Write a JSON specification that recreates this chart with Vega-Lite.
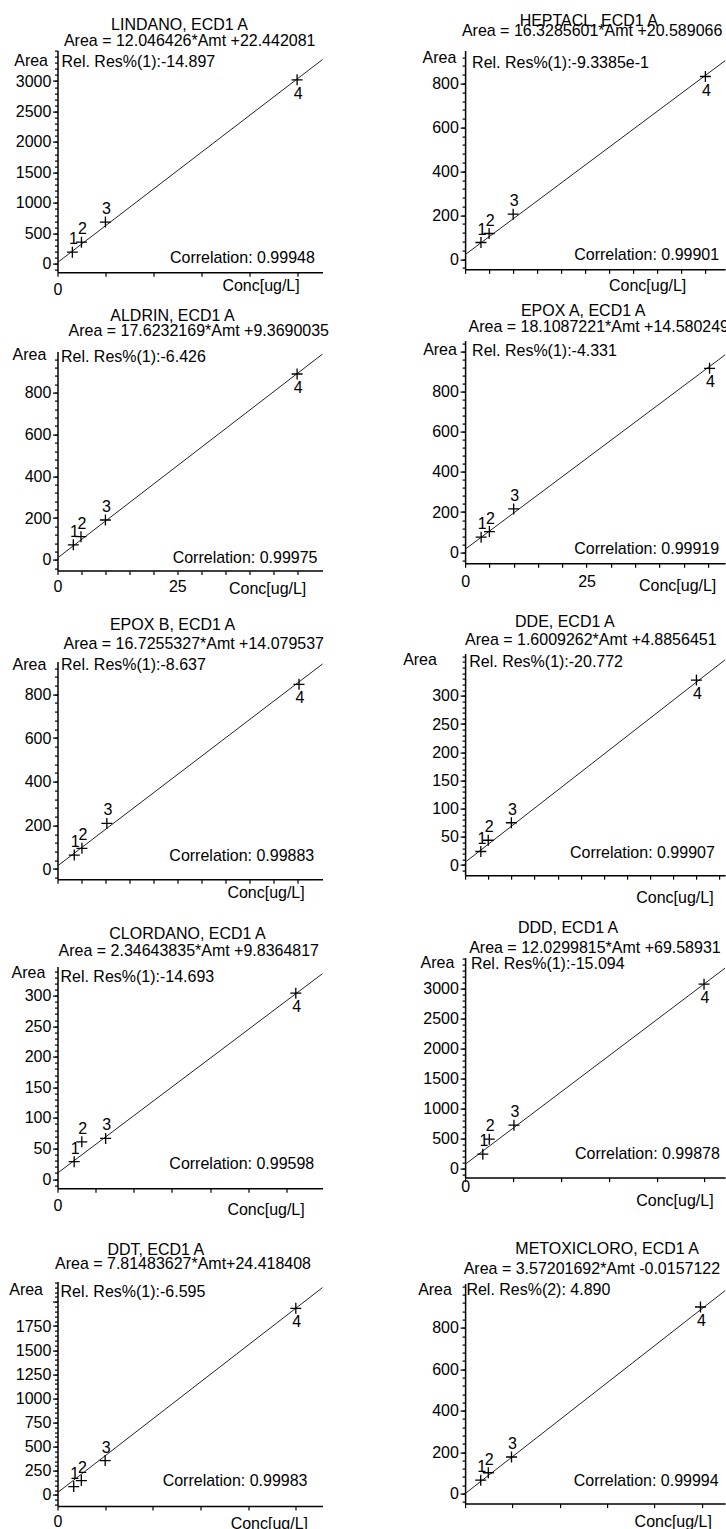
{
"$schema": "https://vega.github.io/schema/vega-lite/v6.json",
"autosize": {"type": "pad"},
"padding": {"left": 8.5, "top": 12.6, "right": 0, "bottom": 0},
"spacing": 72.6,
"config": {
 "font": "Liberation Sans",
 "view": {"stroke": null},
 "axis": {"labelFont": "Liberation Sans", "labelFontSize": 16, "labelColor": "#000", "titleFont": "Liberation Sans", "titleFontSize": 16, "titleFontWeight": "normal", "titleColor": "#000", "domainColor": "#000", "domainWidth": 1.5, "tickColor": "#000", "tickWidth": 1.2, "grid": false, "labelOverlap": false, "labelFlush": false, "labelBound": false, "titlePadding": 0},
 "title": {"font": "Liberation Sans", "fontSize": 16, "fontWeight": "normal", "color": "#000", "frame": "group", "anchor": "middle", "baseline": "bottom"},
 "text": {"font": "Liberation Sans", "fontSize": 16, "color": "#000"}
},
"datasets": {
 "lindano_pts": [{"n":1,"conc":3.1,"area":192},{"n":2,"conc":5,"area":356},{"n":3,"conc":10,"area":685},{"n":4,"conc":50,"area":3021}],
 "lindano_fit": [{"conc":0,"area":22},{"conc":55.3,"area":3353}],
 "lindano_txt": [{"res":"Rel. Res%(1):-14.897","corr":"Correlation: 0.99948"}],
 "heptacl_pts": [{"n":1,"conc":3.3,"area":76},{"n":2,"conc":5,"area":117},{"n":3,"conc":10,"area":205},{"n":4,"conc":50,"area":832}],
 "heptacl_fit": [{"conc":0,"area":20.6},{"conc":54.1,"area":904}],
 "heptacl_txt": [{"res":"Rel. Res%(1):-9.3385e-1","corr":"Correlation: 0.99901"}],
 "aldrin_pts": [{"n":1,"conc":3.3,"area":72},{"n":2,"conc":4.9,"area":111},{"n":3,"conc":10,"area":191},{"n":4,"conc":50,"area":889}],
 "aldrin_fit": [{"conc":0,"area":9.4},{"conc":55.3,"area":984}],
 "aldrin_txt": [{"res":"Rel. Res%(1):-6.426","corr":"Correlation: 0.99975"}],
 "epoxa_pts": [{"n":1,"conc":3.3,"area":75},{"n":2,"conc":5,"area":103},{"n":3,"conc":10,"area":216},{"n":4,"conc":50.3,"area":916}],
 "epoxa_fit": [{"conc":0,"area":14.6},{"conc":53.5,"area":983}],
 "epoxa_txt": [{"res":"Rel. Res%(1):-4.331","corr":"Correlation: 0.99919"}],
 "epoxb_pts": [{"n":1,"conc":3.5,"area":64},{"n":2,"conc":5.1,"area":95},{"n":3,"conc":10.3,"area":209},{"n":4,"conc":50.4,"area":846}],
 "epoxb_fit": [{"conc":0,"area":14.1},{"conc":55.3,"area":939}],
 "epoxb_txt": [{"res":"Rel. Res%(1):-8.637","corr":"Correlation: 0.99883"}],
 "dde_pts": [{"n":1,"conc":3.4,"area":24},{"n":2,"conc":5,"area":44},{"n":3,"conc":10,"area":75},{"n":4,"conc":50,"area":328}],
 "dde_fit": [{"conc":0,"area":4.9},{"conc":56.2,"area":364}],
 "dde_txt": [{"res":"Rel. Res%(1):-20.772","corr":"Correlation: 0.99907"}],
 "clor_pts": [{"n":1,"conc":3.5,"area":28.5},{"n":2,"conc":5.1,"area":61},{"n":3,"conc":10.1,"area":66.6},{"n":4,"conc":50,"area":304}],
 "clor_fit": [{"conc":0,"area":9.8},{"conc":55.6,"area":336}],
 "clor_txt": [{"res":"Rel. Res%(1):-14.693","corr":"Correlation: 0.99598"}],
 "ddd_pts": [{"n":1,"conc":3.7,"area":240},{"n":2,"conc":5.05,"area":489},{"n":3,"conc":10.2,"area":722},{"n":4,"conc":49.9,"area":3068}],
 "ddd_fit": [{"conc":0,"area":69.6},{"conc":54.3,"area":3336}],
 "ddd_txt": [{"res":"Rel. Res%(1):-15.094","corr":"Correlation: 0.99878"}],
 "ddt_pts": [{"n":1,"conc":3.4,"area":87},{"n":2,"conc":5,"area":149},{"n":3,"conc":10,"area":356},{"n":4,"conc":50,"area":1933}],
 "ddt_fit": [{"conc":0,"area":24},{"conc":55.6,"area":2148}],
 "ddt_txt": [{"res":"Rel. Res%(1):-6.595","corr":"Correlation: 0.99983"}],
 "metox_pts": [{"n":1,"conc":3.3,"area":65},{"n":2,"conc":4.9,"area":101},{"n":3,"conc":9.8,"area":177},{"n":4,"conc":49.7,"area":901}],
 "metox_fit": [{"conc":0,"area":0},{"conc":54.9,"area":980}],
 "metox_txt": [{"res":"Rel. Res%(2): 4.890","corr":"Correlation: 0.99994"}]
},
"hconcat": [
{"spacing": 0, "vconcat": [
 {"width": 265, "height": 221.6,
  "title": {"text": "LINDANO, ECD1 A", "dx": -10.5, "offset": -0.1},
  "resolve": {"axis": {"x": "independent", "y": "independent"}},
  "layer": [
   {"data": {"name": "lindano_fit"}, "mark": {"type": "line", "color": "#222", "strokeWidth": 1},
    "encoding": {
     "x": {"field": "conc", "type": "quantitative", "scale": {"domain": [0, 55.3], "nice": false, "zero": false},
      "axis": {"orient": "bottom", "values": [0,10,20,30,40,50], "tickSize": 4, "labelExpr": "datum.value === 0 ? '0' : ''", "labelPadding": 5.4, "title": ["Conc[ug/L]", ""], "titleLineHeight": 14.4, "titleX": 241.7, "titleY": 4.9, "titleAlign": "right", "titleBaseline": "top"}},
     "y": {"field": "area", "type": "quantitative", "scale": {"domain": [-137, 3500], "nice": false, "zero": false},
      "axis": {"orient": "left", "values": [-100,0,100,200,300,400,500,600,700,800,900,1000,1100,1200,1300,1400,1500,1600,1700,1800,1900,2000,2100,2200,2300,2400,2500,2600,2700,2800,2900,3000,3100,3200,3300,3400,3500], "format": "d", "labelExpr": "datum.value >= 0 && datum.value <= 3000 && datum.value % 500 === 0 ? datum.label : ''", "tickSize": 3, "labelPadding": 3.7, "title": "Area", "titleAngle": 0, "titleAlign": "right", "titleBaseline": "middle", "titleX": -10, "titleY": 9.5}}}},
   {"data": {"name": "lindano_pts"}, "mark": {"type": "point", "shape": "M-1,0H1M0,-1V1", "filled": false, "size": 121, "color": "#000", "strokeWidth": 1.3, "opacity": 1},
    "encoding": {
     "x": {"field": "conc", "type": "quantitative", "axis": {"orient": "top", "domain": false, "ticks": false, "labels": false, "title": "Area = 12.046426*Amt +22.442081", "titleX": 131.7, "titleY": -4.9, "titleAlign": "center", "titleBaseline": "alphabetic"}},
     "y": {"field": "area", "type": "quantitative", "axis": {"orient": "left", "values": [0,500,1000,1500,2000,2500,3000], "tickSize": 5, "labels": false, "domain": false, "title": null}}}},
   {"data": {"name": "lindano_pts"}, "transform": [{"filter": "datum.n < 4"}], "mark": {"type": "text", "dx": 1, "dy": -13, "baseline": "middle"},
    "encoding": {"x": {"field": "conc", "type": "quantitative", "axis": null}, "y": {"field": "area", "type": "quantitative", "axis": null}, "text": {"field": "n", "type": "nominal"}}},
   {"data": {"name": "lindano_pts"}, "transform": [{"filter": "datum.n == 4"}], "mark": {"type": "text", "dx": 1, "dy": 14, "baseline": "middle"},
    "encoding": {"x": {"field": "conc", "type": "quantitative", "axis": null}, "y": {"field": "area", "type": "quantitative", "axis": null}, "text": {"field": "n", "type": "nominal"}}},
   {"data": {"name": "lindano_txt"}, "mark": {"type": "text", "align": "left", "baseline": "middle", "dx": 4, "dy": 11.7},
    "encoding": {"x": {"datum": 0, "type": "quantitative", "axis": null}, "y": {"datum": 3500, "type": "quantitative", "axis": null}, "text": {"field": "res", "type": "nominal"}}},
   {"data": {"name": "lindano_txt"}, "mark": {"type": "text", "align": "right", "baseline": "middle", "dx": -7.7, "dy": -13.9},
    "encoding": {"x": {"datum": 55.3, "type": "quantitative", "axis": null}, "y": {"datum": -137, "type": "quantitative", "axis": null}, "text": {"field": "corr", "type": "nominal"}}}
  ]},
 {"width": 265, "height": 219,
  "title": {"text": "ALDRIN, ECD1 A", "dx": -17.5, "offset": -1.7},
  "resolve": {"axis": {"x": "independent", "y": "independent"}},
  "layer": [
   {"data": {"name": "aldrin_fit"}, "mark": {"type": "line", "color": "#222", "strokeWidth": 1},
    "encoding": {
     "x": {"field": "conc", "type": "quantitative", "scale": {"domain": [0, 55.3], "nice": false, "zero": false},
      "axis": {"orient": "bottom", "values": [0,5,10,15,20,25,30,35,40,45,50], "tickSize": 4, "labelExpr": "datum.value === 0 || datum.value === 25 ? datum.label : ''", "labelPadding": 4.1, "title": ["Conc[ug/L]", ""], "titleLineHeight": 19.6, "titleX": 248.3, "titleY": 10.3, "titleAlign": "right", "titleBaseline": "top"}},
     "y": {"field": "area", "type": "quantitative", "scale": {"domain": [-51, 996], "nice": false, "zero": false},
      "axis": {"orient": "left", "values": [-40,0,40,80,120,160,200,240,280,320,360,400,440,480,520,560,600,640,680,720,760,800,840,880,920,960], "format": "d", "labelExpr": "datum.value >= 0 && datum.value <= 800 && datum.value % 200 === 0 ? datum.label : ''", "tickSize": 3, "labelPadding": 3.7, "title": "Area", "titleAngle": 0, "titleAlign": "right", "titleBaseline": "middle", "titleX": -11.7, "titleY": 2.9}}}},
   {"data": {"name": "aldrin_pts"}, "mark": {"type": "point", "shape": "M-1,0H1M0,-1V1", "filled": false, "size": 121, "color": "#000", "strokeWidth": 1.3, "opacity": 1},
    "encoding": {
     "x": {"field": "conc", "type": "quantitative", "axis": {"orient": "top", "domain": false, "ticks": false, "labels": false, "title": "Area = 17.6232169*Amt +9.3690035", "titleX": 140.8, "titleY": -16, "titleAlign": "center", "titleBaseline": "alphabetic"}},
     "y": {"field": "area", "type": "quantitative", "axis": {"orient": "left", "values": [0,200,400,600,800], "tickSize": 5, "labels": false, "domain": false, "title": null}}}},
   {"data": {"name": "aldrin_pts"}, "transform": [{"filter": "datum.n < 4"}], "mark": {"type": "text", "dx": 1, "dy": -13, "baseline": "middle"},
    "encoding": {"x": {"field": "conc", "type": "quantitative", "axis": null}, "y": {"field": "area", "type": "quantitative", "axis": null}, "text": {"field": "n", "type": "nominal"}}},
   {"data": {"name": "aldrin_pts"}, "transform": [{"filter": "datum.n == 4"}], "mark": {"type": "text", "dx": 1, "dy": 14, "baseline": "middle"},
    "encoding": {"x": {"field": "conc", "type": "quantitative", "axis": null}, "y": {"field": "area", "type": "quantitative", "axis": null}, "text": {"field": "n", "type": "nominal"}}},
   {"data": {"name": "aldrin_txt"}, "mark": {"type": "text", "align": "left", "baseline": "middle", "dx": 3.5, "dy": 5.1},
    "encoding": {"x": {"datum": 0, "type": "quantitative", "axis": null}, "y": {"datum": 996, "type": "quantitative", "axis": null}, "text": {"field": "res", "type": "nominal"}}},
   {"data": {"name": "aldrin_txt"}, "mark": {"type": "text", "align": "right", "baseline": "middle", "dx": -5, "dy": -12.3},
    "encoding": {"x": {"datum": 55.3, "type": "quantitative", "axis": null}, "y": {"datum": -51, "type": "quantitative", "axis": null}, "text": {"field": "corr", "type": "nominal"}}}
  ]},
 {"width": 265, "height": 217.7,
  "title": {"text": "EPOX B, ECD1 A", "dx": -17.5, "offset": 3.3},
  "resolve": {"axis": {"x": "independent", "y": "independent"}},
  "layer": [
   {"data": {"name": "epoxb_fit"}, "mark": {"type": "line", "color": "#222", "strokeWidth": 1},
    "encoding": {
     "x": {"field": "conc", "type": "quantitative", "scale": {"domain": [0, 55.3], "nice": false, "zero": false},
      "axis": {"orient": "bottom", "values": [0,5,10,15,20,25,30,35,40,45,50], "tickSize": 4, "labels": false, "title": ["Conc[ug/L]", ""], "titleLineHeight": 25.2, "titleX": 246.7, "titleY": 4.8, "titleAlign": "right", "titleBaseline": "top"}},
     "y": {"field": "area", "type": "quantitative", "scale": {"domain": [-47, 950], "nice": false, "zero": false},
      "axis": {"orient": "left", "values": [-40,0,40,80,120,160,200,240,280,320,360,400,440,480,520,560,600,640,680,720,760,800,840,880,920], "format": "d", "labelExpr": "datum.value >= 0 && datum.value <= 800 && datum.value % 200 === 0 ? datum.label : ''", "tickSize": 3, "labelPadding": 3.7, "title": "Area", "titleAngle": 0, "titleAlign": "right", "titleBaseline": "middle", "titleX": -11.7, "titleY": 2.9}}}},
   {"data": {"name": "epoxb_pts"}, "mark": {"type": "point", "shape": "M-1,0H1M0,-1V1", "filled": false, "size": 121, "color": "#000", "strokeWidth": 1.3, "opacity": 1},
    "encoding": {
     "x": {"field": "conc", "type": "quantitative", "axis": {"orient": "top", "domain": false, "ticks": false, "labels": false, "title": "Area = 16.7255327*Amt +14.079537", "titleX": 135.8, "titleY": -12.6, "titleAlign": "center", "titleBaseline": "alphabetic"}},
     "y": {"field": "area", "type": "quantitative", "axis": {"orient": "left", "values": [0,200,400,600,800], "tickSize": 5, "labels": false, "domain": false, "title": null}}}},
   {"data": {"name": "epoxb_pts"}, "transform": [{"filter": "datum.n < 4"}], "mark": {"type": "text", "dx": 1, "dy": -13, "baseline": "middle"},
    "encoding": {"x": {"field": "conc", "type": "quantitative", "axis": null}, "y": {"field": "area", "type": "quantitative", "axis": null}, "text": {"field": "n", "type": "nominal"}}},
   {"data": {"name": "epoxb_pts"}, "transform": [{"filter": "datum.n == 4"}], "mark": {"type": "text", "dx": 1, "dy": 14, "baseline": "middle"},
    "encoding": {"x": {"field": "conc", "type": "quantitative", "axis": null}, "y": {"field": "area", "type": "quantitative", "axis": null}, "text": {"field": "n", "type": "nominal"}}},
   {"data": {"name": "epoxb_txt"}, "mark": {"type": "text", "align": "left", "baseline": "middle", "dx": 3.5, "dy": 3.4},
    "encoding": {"x": {"datum": 0, "type": "quantitative", "axis": null}, "y": {"datum": 950, "type": "quantitative", "axis": null}, "text": {"field": "res", "type": "nominal"}}},
   {"data": {"name": "epoxb_txt"}, "mark": {"type": "text", "align": "right", "baseline": "middle", "dx": -8.3, "dy": -23.3},
    "encoding": {"x": {"datum": 55.3, "type": "quantitative", "axis": null}, "y": {"datum": -47, "type": "quantitative", "axis": null}, "text": {"field": "corr", "type": "nominal"}}}
  ]},
 {"width": 265, "height": 221.7,
  "title": {"text": "CLORDANO, ECD1 A", "dx": -2.5, "offset": 0.5},
  "resolve": {"axis": {"x": "independent", "y": "independent"}},
  "layer": [
   {"data": {"name": "clor_fit"}, "mark": {"type": "line", "color": "#222", "strokeWidth": 1},
    "encoding": {
     "x": {"field": "conc", "type": "quantitative", "scale": {"domain": [0, 55.6], "nice": false, "zero": false},
      "axis": {"orient": "bottom", "values": [0,8,16,24,32,40,48], "tickSize": 4, "labelExpr": "datum.value === 0 ? '0' : ''", "labelPadding": 5, "title": ["Conc[ug/L]", ""], "titleLineHeight": 24.1, "titleX": 246.7, "titleY": 13, "titleAlign": "right", "titleBaseline": "top"}},
     "y": {"field": "area", "type": "quantitative", "scale": {"domain": [-15, 347.5], "nice": false, "zero": false},
      "axis": {"orient": "left", "values": [-10,0,10,20,30,40,50,60,70,80,90,100,110,120,130,140,150,160,170,180,190,200,210,220,230,240,250,260,270,280,290,300,310,320,330,340], "format": "d", "labelExpr": "datum.value >= 0 && datum.value <= 300 && datum.value % 50 === 0 ? datum.label : ''", "tickSize": 3, "labelPadding": 3.7, "title": "Area", "titleAngle": 0, "titleAlign": "right", "titleBaseline": "middle", "titleX": -12.7, "titleY": 6.3}}}},
   {"data": {"name": "clor_pts"}, "mark": {"type": "point", "shape": "M-1,0H1M0,-1V1", "filled": false, "size": 121, "color": "#000", "strokeWidth": 1.3, "opacity": 1},
    "encoding": {
     "x": {"field": "conc", "type": "quantitative", "axis": {"orient": "top", "domain": false, "ticks": false, "labels": false, "title": "Area = 2.34643835*Amt +9.8364817", "titleX": 130.8, "titleY": -11, "titleAlign": "center", "titleBaseline": "alphabetic"}},
     "y": {"field": "area", "type": "quantitative", "axis": {"orient": "left", "values": [0,50,100,150,200,250,300], "tickSize": 5, "labels": false, "domain": false, "title": null}}}},
   {"data": {"name": "clor_pts"}, "transform": [{"filter": "datum.n < 4"}], "mark": {"type": "text", "dx": 1, "dy": -13, "baseline": "middle"},
    "encoding": {"x": {"field": "conc", "type": "quantitative", "axis": null}, "y": {"field": "area", "type": "quantitative", "axis": null}, "text": {"field": "n", "type": "nominal"}}},
   {"data": {"name": "clor_pts"}, "transform": [{"filter": "datum.n == 4"}], "mark": {"type": "text", "dx": 1, "dy": 14, "baseline": "middle"},
    "encoding": {"x": {"field": "conc", "type": "quantitative", "axis": null}, "y": {"field": "area", "type": "quantitative", "axis": null}, "text": {"field": "n", "type": "nominal"}}},
   {"data": {"name": "clor_txt"}, "mark": {"type": "text", "align": "left", "baseline": "middle", "dx": 3, "dy": 10.1},
    "encoding": {"x": {"datum": 0, "type": "quantitative", "axis": null}, "y": {"datum": 347.5, "type": "quantitative", "axis": null}, "text": {"field": "res", "type": "nominal"}}},
   {"data": {"name": "clor_txt"}, "mark": {"type": "text", "align": "right", "baseline": "middle", "dx": -8.3, "dy": -23.9},
    "encoding": {"x": {"datum": 55.6, "type": "quantitative", "axis": null}, "y": {"datum": -15, "type": "quantitative", "axis": null}, "text": {"field": "corr", "type": "nominal"}}}
  ]},
 {"width": 265, "height": 224.4,
  "title": {"text": "DDT, ECD1 A", "dx": -34.2, "offset": -1.7},
  "resolve": {"axis": {"x": "independent", "y": "independent"}},
  "layer": [
   {"data": {"name": "ddt_fit"}, "mark": {"type": "line", "color": "#222", "strokeWidth": 1},
    "encoding": {
     "x": {"field": "conc", "type": "quantitative", "scale": {"domain": [0, 55.6], "nice": false, "zero": false},
      "axis": {"orient": "bottom", "values": [0,10,20,30,40,50], "tickSize": 4, "labelExpr": "datum.value === 0 ? '0' : ''", "labelPadding": 3.6, "title": "Conc[ug/L]", "titleX": 250, "titleY": 9.5, "titleAlign": "right", "titleBaseline": "top"}},
     "y": {"field": "area", "type": "quantitative", "scale": {"domain": [-114, 2210], "nice": false, "zero": false},
      "axis": {"orient": "left", "values": [-100,-50,0,50,100,150,200,250,300,350,400,450,500,550,600,650,700,750,800,850,900,950,1000,1050,1100,1150,1200,1250,1300,1350,1400,1450,1500,1550,1600,1650,1700,1750,1800,1850,1900,1950,2000,2050,2100,2150,2200], "format": "d", "labelExpr": "datum.value >= 0 && datum.value <= 1750 && datum.value % 250 === 0 ? datum.label : ''", "tickSize": 3, "labelPadding": 3.7, "title": "Area", "titleAngle": 0, "titleAlign": "right", "titleBaseline": "middle", "titleX": -15, "titleY": 7.9}}}},
   {"data": {"name": "ddt_pts"}, "mark": {"type": "point", "shape": "M-1,0H1M0,-1V1", "filled": false, "size": 121, "color": "#000", "strokeWidth": 1.3, "opacity": 1},
    "encoding": {
     "x": {"field": "conc", "type": "quantitative", "axis": {"orient": "top", "domain": false, "ticks": false, "labels": false, "title": "Area = 7.81483627*Amt+24.418408", "titleX": 125, "titleY": -12.6, "titleAlign": "center", "titleBaseline": "alphabetic"}},
     "y": {"field": "area", "type": "quantitative", "axis": {"orient": "left", "values": [0,250,500,750,1000,1250,1500,1750,2000], "tickSize": 5, "labels": false, "domain": false, "title": null}}}},
   {"data": {"name": "ddt_pts"}, "transform": [{"filter": "datum.n < 4"}], "mark": {"type": "text", "dx": 1, "dy": -13, "baseline": "middle"},
    "encoding": {"x": {"field": "conc", "type": "quantitative", "axis": null}, "y": {"field": "area", "type": "quantitative", "axis": null}, "text": {"field": "n", "type": "nominal"}}},
   {"data": {"name": "ddt_pts"}, "transform": [{"filter": "datum.n == 4"}], "mark": {"type": "text", "dx": 1, "dy": 14, "baseline": "middle"},
    "encoding": {"x": {"field": "conc", "type": "quantitative", "axis": null}, "y": {"field": "area", "type": "quantitative", "axis": null}, "text": {"field": "n", "type": "nominal"}}},
   {"data": {"name": "ddt_txt"}, "mark": {"type": "text", "align": "left", "baseline": "middle", "dx": 3, "dy": 10.1},
    "encoding": {"x": {"datum": 0, "type": "quantitative", "axis": null}, "y": {"datum": 2210, "type": "quantitative", "axis": null}, "text": {"field": "res", "type": "nominal"}}},
   {"data": {"name": "ddt_txt"}, "mark": {"type": "text", "align": "right", "baseline": "middle", "dx": -15, "dy": -25},
    "encoding": {"x": {"datum": 55.6, "type": "quantitative", "axis": null}, "y": {"datum": -114, "type": "quantitative", "axis": null}, "text": {"field": "corr", "type": "nominal"}}}
  ]}
]},
{"spacing": 0, "vconcat": [
 {"width": 260, "height": 218.7,
  "title": {"text": "HEPTACL, ECD1 A", "dx": -6.3, "offset": -5.8},
  "resolve": {"axis": {"x": "independent", "y": "independent"}},
  "layer": [
   {"data": {"name": "heptacl_fit"}, "mark": {"type": "line", "color": "#222", "strokeWidth": 1},
    "encoding": {
     "x": {"field": "conc", "type": "quantitative", "scale": {"domain": [0, 54.1], "nice": false, "zero": false},
      "axis": {"orient": "bottom", "values": [0,5,10,15,20,25,30,35,40,45,50], "tickSize": 4, "labels": false, "title": ["Conc[ug/L]", ""], "titleLineHeight": 8, "titleX": 220.7, "titleY": 8.6, "titleAlign": "right", "titleBaseline": "top"}},
     "y": {"field": "area", "type": "quantitative", "scale": {"domain": [-46, 950], "nice": false, "zero": false},
      "axis": {"orient": "left", "values": [-40,0,40,80,120,160,200,240,280,320,360,400,440,480,520,560,600,640,680,720,760,800,840,880,920], "format": "d", "labelExpr": "datum.value >= 0 && datum.value <= 800 && datum.value % 200 === 0 ? datum.label : ''", "tickSize": 3, "labelPadding": 3.7, "title": "Area", "titleAngle": 0, "titleAlign": "right", "titleBaseline": "middle", "titleX": -9.3, "titleY": 7.2}}}},
   {"data": {"name": "heptacl_pts"}, "mark": {"type": "point", "shape": "M-1,0H1M0,-1V1", "filled": false, "size": 121, "color": "#000", "strokeWidth": 1.3, "opacity": 1},
    "encoding": {
     "x": {"field": "conc", "type": "quantitative", "axis": {"orient": "top", "domain": false, "ticks": false, "labels": false, "title": "Area = 16.3285601*Amt +20.589066", "titleX": -3.7, "titleY": -14.7, "titleAlign": "left", "titleBaseline": "alphabetic"}},
     "y": {"field": "area", "type": "quantitative", "axis": {"orient": "left", "values": [0,200,400,600,800], "tickSize": 5, "labels": false, "domain": false, "title": null}}}},
   {"data": {"name": "heptacl_pts"}, "transform": [{"filter": "datum.n < 4"}], "mark": {"type": "text", "dx": 1, "dy": -13, "baseline": "middle"},
    "encoding": {"x": {"field": "conc", "type": "quantitative", "axis": null}, "y": {"field": "area", "type": "quantitative", "axis": null}, "text": {"field": "n", "type": "nominal"}}},
   {"data": {"name": "heptacl_pts"}, "transform": [{"filter": "datum.n == 4"}], "mark": {"type": "text", "dx": 1, "dy": 14, "baseline": "middle"},
    "encoding": {"x": {"field": "conc", "type": "quantitative", "axis": null}, "y": {"field": "area", "type": "quantitative", "axis": null}, "text": {"field": "n", "type": "nominal"}}},
   {"data": {"name": "heptacl_txt"}, "mark": {"type": "text", "align": "left", "baseline": "middle", "dx": 7, "dy": 12.1},
    "encoding": {"x": {"datum": 0, "type": "quantitative", "axis": null}, "y": {"datum": 950, "type": "quantitative", "axis": null}, "text": {"field": "res", "type": "nominal"}}},
   {"data": {"name": "heptacl_txt"}, "mark": {"type": "text", "align": "right", "baseline": "middle", "dx": -6, "dy": -14},
    "encoding": {"x": {"datum": 54.1, "type": "quantitative", "axis": null}, "y": {"datum": -46, "type": "quantitative", "axis": null}, "text": {"field": "corr", "type": "nominal"}}}
  ]},
 {"width": 260, "height": 222.7,
  "title": {"text": "EPOX A, ECD1 A", "dx": -12, "offset": -1.1},
  "resolve": {"axis": {"x": "independent", "y": "independent"}},
  "layer": [
   {"data": {"name": "epoxa_fit"}, "mark": {"type": "line", "color": "#222", "strokeWidth": 1},
    "encoding": {
     "x": {"field": "conc", "type": "quantitative", "scale": {"domain": [0, 53.5], "nice": false, "zero": false},
      "axis": {"orient": "bottom", "values": [0,5,10,15,20,25,30,35,40,45,50], "tickSize": 4, "labelExpr": "datum.value === 0 || datum.value === 25 ? datum.label : ''", "labelPadding": 6.3, "title": ["Conc[ug/L]", ""], "titleLineHeight": 19.8, "titleX": 250.7, "titleY": 14, "titleAlign": "right", "titleBaseline": "top"}},
     "y": {"field": "area", "type": "quantitative", "scale": {"domain": [-55, 1054], "nice": false, "zero": false},
      "axis": {"orient": "left", "values": [-40,0,40,80,120,160,200,240,280,320,360,400,440,480,520,560,600,640,680,720,760,800,840,880,920,960,1000,1040], "format": "d", "labelExpr": "datum.value >= 0 && datum.value <= 800 && datum.value % 200 === 0 ? datum.label : ''", "tickSize": 3, "labelPadding": 3.7, "title": "Area", "titleAngle": 0, "titleAlign": "right", "titleBaseline": "middle", "titleX": -8.7, "titleY": 8.9}}}},
   {"data": {"name": "epoxa_pts"}, "mark": {"type": "point", "shape": "M-1,0H1M0,-1V1", "filled": false, "size": 121, "color": "#000", "strokeWidth": 1.3, "opacity": 1},
    "encoding": {
     "x": {"field": "conc", "type": "quantitative", "axis": {"orient": "top", "domain": false, "ticks": false, "labels": false, "title": "Area = 18.1087221*Amt +14.580249", "titleX": 3, "titleY": -9.3, "titleAlign": "left", "titleBaseline": "alphabetic"}},
     "y": {"field": "area", "type": "quantitative", "axis": {"orient": "left", "values": [0,200,400,600,800,1000], "tickSize": 5, "labels": false, "domain": false, "title": null}}}},
   {"data": {"name": "epoxa_pts"}, "transform": [{"filter": "datum.n < 4"}], "mark": {"type": "text", "dx": 1, "dy": -13, "baseline": "middle"},
    "encoding": {"x": {"field": "conc", "type": "quantitative", "axis": null}, "y": {"field": "area", "type": "quantitative", "axis": null}, "text": {"field": "n", "type": "nominal"}}},
   {"data": {"name": "epoxa_pts"}, "transform": [{"filter": "datum.n == 4"}], "mark": {"type": "text", "dx": 1, "dy": 14, "baseline": "middle"},
    "encoding": {"x": {"field": "conc", "type": "quantitative", "axis": null}, "y": {"field": "area", "type": "quantitative", "axis": null}, "text": {"field": "n", "type": "nominal"}}},
   {"data": {"name": "epoxa_txt"}, "mark": {"type": "text", "align": "left", "baseline": "middle", "dx": 7, "dy": 10.1},
    "encoding": {"x": {"datum": 0, "type": "quantitative", "axis": null}, "y": {"datum": 1054, "type": "quantitative", "axis": null}, "text": {"field": "res", "type": "nominal"}}},
   {"data": {"name": "epoxa_txt"}, "mark": {"type": "text", "align": "right", "baseline": "middle", "dx": -6, "dy": -14.3},
    "encoding": {"x": {"datum": 53.5, "type": "quantitative", "axis": null}, "y": {"datum": -55, "type": "quantitative", "axis": null}, "text": {"field": "corr", "type": "nominal"}}}
  ]},
 {"width": 260, "height": 221.6,
  "title": {"text": "DDE, ECD1 A", "dx": -30.3, "offset": 1.5},
  "resolve": {"axis": {"x": "independent", "y": "independent"}},
  "layer": [
   {"data": {"name": "dde_fit"}, "mark": {"type": "line", "color": "#222", "strokeWidth": 1},
    "encoding": {
     "x": {"field": "conc", "type": "quantitative", "scale": {"domain": [0, 56.2], "nice": false, "zero": false},
      "axis": {"orient": "bottom", "values": [0,5,10,15,20,25,30,35,40,45,50,55], "tickSize": 4, "labels": false, "title": ["Conc[ug/L]", ""], "titleLineHeight": 13.5, "titleX": 248, "titleY": 14.7, "titleAlign": "right", "titleBaseline": "top"}},
     "y": {"field": "area", "type": "quantitative", "scale": {"domain": [-18, 375], "nice": false, "zero": false},
      "axis": {"orient": "left", "values": [-10,0,10,20,30,40,50,60,70,80,90,100,110,120,130,140,150,160,170,180,190,200,210,220,230,240,250,260,270,280,290,300,310,320,330,340,350,360,370], "format": "d", "labelExpr": "datum.value >= 0 && datum.value <= 300 && datum.value % 50 === 0 ? datum.label : ''", "tickSize": 3, "labelPadding": 3.7, "title": "Area", "titleAngle": 0, "titleAlign": "right", "titleBaseline": "middle", "titleX": -28.7, "titleY": 5.5}}}},
   {"data": {"name": "dde_pts"}, "mark": {"type": "point", "shape": "M-1,0H1M0,-1V1", "filled": false, "size": 121, "color": "#000", "strokeWidth": 1.3, "opacity": 1},
    "encoding": {
     "x": {"field": "conc", "type": "quantitative", "axis": {"orient": "top", "domain": false, "ticks": false, "labels": false, "title": "Area = 1.6009262*Amt +4.8856451", "titleX": 125.2, "titleY": -9.4, "titleAlign": "center", "titleBaseline": "alphabetic"}},
     "y": {"field": "area", "type": "quantitative", "axis": {"orient": "left", "values": [0,50,100,150,200,250,300], "tickSize": 5, "labels": false, "domain": false, "title": null}}}},
   {"data": {"name": "dde_pts"}, "transform": [{"filter": "datum.n < 4"}], "mark": {"type": "text", "dx": 1, "dy": -13, "baseline": "middle"},
    "encoding": {"x": {"field": "conc", "type": "quantitative", "axis": null}, "y": {"field": "area", "type": "quantitative", "axis": null}, "text": {"field": "n", "type": "nominal"}}},
   {"data": {"name": "dde_pts"}, "transform": [{"filter": "datum.n == 4"}], "mark": {"type": "text", "dx": 1, "dy": 14, "baseline": "middle"},
    "encoding": {"x": {"field": "conc", "type": "quantitative", "axis": null}, "y": {"field": "area", "type": "quantitative", "axis": null}, "text": {"field": "n", "type": "nominal"}}},
   {"data": {"name": "dde_txt"}, "mark": {"type": "text", "align": "left", "baseline": "middle", "dx": 4.2, "dy": 8.4},
    "encoding": {"x": {"datum": 0, "type": "quantitative", "axis": null}, "y": {"datum": 375, "type": "quantitative", "axis": null}, "text": {"field": "res", "type": "nominal"}}},
   {"data": {"name": "dde_txt"}, "mark": {"type": "text", "align": "right", "baseline": "middle", "dx": -10.3, "dy": -22.2},
    "encoding": {"x": {"datum": 56.2, "type": "quantitative", "axis": null}, "y": {"datum": -18, "type": "quantitative", "axis": null}, "text": {"field": "corr", "type": "nominal"}}}
  ]},
 {"width": 260, "height": 220,
  "title": {"text": "DDD, ECD1 A", "dx": -27, "offset": 3.2},
  "resolve": {"axis": {"x": "independent", "y": "independent"}},
  "layer": [
   {"data": {"name": "ddd_fit"}, "mark": {"type": "line", "color": "#222", "strokeWidth": 1},
    "encoding": {
     "x": {"field": "conc", "type": "quantitative", "scale": {"domain": [0, 54.3], "nice": false, "zero": false},
      "axis": {"orient": "bottom", "values": [0,10,20,30,40,50], "tickSize": 4, "labelExpr": "datum.value === 0 ? '0' : ''", "labelPadding": -2.6, "title": ["Conc[ug/L]", ""], "titleLineHeight": 31.8, "titleX": 248, "titleY": 14.7, "titleAlign": "right", "titleBaseline": "top"}},
     "y": {"field": "area", "type": "quantitative", "scale": {"domain": [-150, 3511], "nice": false, "zero": false},
      "axis": {"orient": "left", "values": [-100,0,100,200,300,400,500,600,700,800,900,1000,1100,1200,1300,1400,1500,1600,1700,1800,1900,2000,2100,2200,2300,2400,2500,2600,2700,2800,2900,3000,3100,3200,3300,3400,3500], "format": "d", "labelExpr": "datum.value >= 0 && datum.value <= 3000 && datum.value % 500 === 0 ? datum.label : ''", "tickSize": 3, "labelPadding": 3.7, "title": "Area", "titleAngle": 0, "titleAlign": "right", "titleBaseline": "middle", "titleX": -11.3, "titleY": 5.2}}}},
   {"data": {"name": "ddd_pts"}, "mark": {"type": "point", "shape": "M-1,0H1M0,-1V1", "filled": false, "size": 121, "color": "#000", "strokeWidth": 1.3, "opacity": 1},
    "encoding": {
     "x": {"field": "conc", "type": "quantitative", "axis": {"orient": "top", "domain": false, "ticks": false, "labels": false, "title": "Area = 12.0299815*Amt +69.58931", "titleX": 129.3, "titleY": -5.2, "titleAlign": "center", "titleBaseline": "alphabetic"}},
     "y": {"field": "area", "type": "quantitative", "axis": {"orient": "left", "values": [0,500,1000,1500,2000,2500,3000], "tickSize": 5, "labels": false, "domain": false, "title": null}}}},
   {"data": {"name": "ddd_pts"}, "transform": [{"filter": "datum.n < 4"}], "mark": {"type": "text", "dx": 1, "dy": -13, "baseline": "middle"},
    "encoding": {"x": {"field": "conc", "type": "quantitative", "axis": null}, "y": {"field": "area", "type": "quantitative", "axis": null}, "text": {"field": "n", "type": "nominal"}}},
   {"data": {"name": "ddd_pts"}, "transform": [{"filter": "datum.n == 4"}], "mark": {"type": "text", "dx": 1, "dy": 14, "baseline": "middle"},
    "encoding": {"x": {"field": "conc", "type": "quantitative", "axis": null}, "y": {"field": "area", "type": "quantitative", "axis": null}, "text": {"field": "n", "type": "nominal"}}},
   {"data": {"name": "ddd_txt"}, "mark": {"type": "text", "align": "left", "baseline": "middle", "dx": 5.8, "dy": 6.7},
    "encoding": {"x": {"datum": 0, "type": "quantitative", "axis": null}, "y": {"datum": 3511, "type": "quantitative", "axis": null}, "text": {"field": "res", "type": "nominal"}}},
   {"data": {"name": "ddd_txt"}, "mark": {"type": "text", "align": "right", "baseline": "middle", "dx": -5.3, "dy": -24},
    "encoding": {"x": {"datum": 54.3, "type": "quantitative", "axis": null}, "y": {"datum": -150, "type": "quantitative", "axis": null}, "text": {"field": "corr", "type": "nominal"}}}
  ]},
 {"width": 260, "height": 220,
  "title": {"text": "METOXICLORO, ECD1 A", "dx": 12, "offset": 2.9},
  "resolve": {"axis": {"x": "independent", "y": "independent"}},
  "layer": [
   {"data": {"name": "metox_fit"}, "mark": {"type": "line", "color": "#222", "strokeWidth": 1},
    "encoding": {
     "x": {"field": "conc", "type": "quantitative", "scale": {"domain": [0, 54.9], "nice": false, "zero": false},
      "axis": {"orient": "bottom", "values": [0,10,20,30,40,50], "tickSize": 4, "labels": false, "title": "Conc[ug/L]", "titleX": 246.3, "titleY": 10.3, "titleAlign": "right", "titleBaseline": "top"}},
     "y": {"field": "area", "type": "quantitative", "scale": {"domain": [-48, 1014], "nice": false, "zero": false},
      "axis": {"orient": "left", "values": [-40,0,40,80,120,160,200,240,280,320,360,400,440,480,520,560,600,640,680,720,760,800,840,880,920,960,1000], "format": "d", "labelExpr": "datum.value >= 0 && datum.value <= 800 && datum.value % 200 === 0 ? datum.label : ''", "tickSize": 3, "labelPadding": 3.7, "title": "Area", "titleAngle": 0, "titleAlign": "right", "titleBaseline": "middle", "titleX": -13.7, "titleY": 5.5}}}},
   {"data": {"name": "metox_pts"}, "mark": {"type": "point", "shape": "M-1,0H1M0,-1V1", "filled": false, "size": 121, "color": "#000", "strokeWidth": 1.3, "opacity": 1},
    "encoding": {
     "x": {"field": "conc", "type": "quantitative", "axis": {"orient": "top", "domain": false, "ticks": false, "labels": false, "title": "Area = 3.57201692*Amt -0.0157122", "titleX": 126.3, "titleY": -10.4, "titleAlign": "center", "titleBaseline": "alphabetic"}},
     "y": {"field": "area", "type": "quantitative", "axis": {"orient": "left", "values": [0,200,400,600,800], "tickSize": 5, "labels": false, "domain": false, "title": null}}}},
   {"data": {"name": "metox_pts"}, "transform": [{"filter": "datum.n < 4"}], "mark": {"type": "text", "dx": 1, "dy": -13, "baseline": "middle"},
    "encoding": {"x": {"field": "conc", "type": "quantitative", "axis": null}, "y": {"field": "area", "type": "quantitative", "axis": null}, "text": {"field": "n", "type": "nominal"}}},
   {"data": {"name": "metox_pts"}, "transform": [{"filter": "datum.n == 4"}], "mark": {"type": "text", "dx": 1, "dy": 14, "baseline": "middle"},
    "encoding": {"x": {"field": "conc", "type": "quantitative", "axis": null}, "y": {"field": "area", "type": "quantitative", "axis": null}, "text": {"field": "n", "type": "nominal"}}},
   {"data": {"name": "metox_txt"}, "mark": {"type": "text", "align": "left", "baseline": "middle", "dx": 1.3, "dy": 6.7},
    "encoding": {"x": {"datum": 0, "type": "quantitative", "axis": null}, "y": {"datum": 1014, "type": "quantitative", "axis": null}, "text": {"field": "res", "type": "nominal"}}},
   {"data": {"name": "metox_txt"}, "mark": {"type": "text", "align": "right", "baseline": "middle", "dx": -6.5, "dy": -23},
    "encoding": {"x": {"datum": 54.9, "type": "quantitative", "axis": null}, "y": {"datum": -48, "type": "quantitative", "axis": null}, "text": {"field": "corr", "type": "nominal"}}}
  ]}
]}
]
}
